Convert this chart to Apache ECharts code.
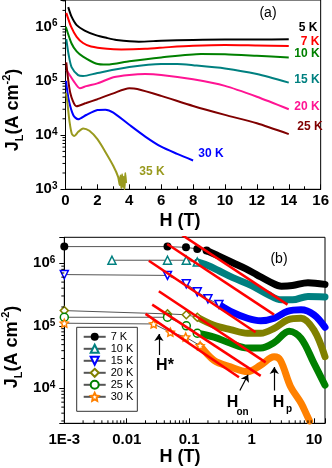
<!DOCTYPE html>
<html><head><meta charset="utf-8">
<script src="https://cdn.jsdelivr.net/npm/echarts@6/dist/echarts.min.js"></script>
<style>html,body{margin:0;padding:0;background:#fff}#c{width:332px;height:468px}</style>
</head><body><div id="c"></div>
<script>
// ---------- Panel (a): J_L vs H, linear H ----------
const aTemps = ['5 K','7 K','10 K','15 K','20 K','25 K','30 K','35 K'];
const aJ5K  = [[0.17,2.3e6],[0.38,1.53e6],[0.7,1.07e6],[1.2,8.5e5],[1.9,7.0e5],[2.6,6.2e5],[3.2,5.7e5],[4.6,5.3e5],[6,5.5e5],[8,5.7e5],[10,5.8e5],[12,5.8e5],[14,5.9e5]];
const aJ7K  = [[0.05,1.8e6],[0.35,1.0e6],[0.7,6.5e5],[1.1,5.0e5],[1.6,4.3e5],[2.6,3.9e5],[3.5,3.8e5],[5,3.9e5],[6.5,4.2e5],[8,4.45e5],[10,4.6e5],[12,4.5e5],[14,4.4e5]];
const aJ10K = [[0.02,1.0e6],[0.38,4.9e5],[0.7,3.5e5],[1.1,2.8e5],[1.9,2.1e5],[2.6,2.0e5],[4,2.3e5],[6,2.7e5],[8.5,3.15e5],[10,3.1e5],[12,2.9e5],[14,2.7e5]];
const aJ15K = [[0.05,5.9e5],[0.2,3.0e5],[0.38,1.8e5],[0.79,1.28e5],[1.1,1.23e5],[2,1.4e5],[4,1.8e5],[6,2.05e5],[7,2.05e5],[8,1.95e5],[10,1.7e5],[12,1.34e5],[14,9.3e4]];
const aJ20K = [[0.05,1.6e5],[0.25,1.3e5],[0.5,1.0e5],[0.9,7.3e4],[1.3,8.0e4],[2,9.0e4],[3,1.17e5],[4,1.29e5],[5,1.34e5],[6,1.29e5],[8,1.07e5],[10,8.1e4],[12,5.1e4],[14,3.0e4]];
const aJ25K = [[0.05,2.2e5],[0.3,6.0e4],[0.69,3.4e4],[1.3,3.9e4],[2,4.6e4],[3,5.9e4],[4,7.3e4],[4.5,7.1e4],[6,5.3e4],[8,3.45e4],[10,2.36e4],[12,1.65e4],[14,1.04e4]];
const aJ30K = [[0.03,1.0e5],[0.2,4.5e4],[0.5,2.3e4],[0.79,1.96e4],[1.3,2.35e4],[2,2.9e4],[2.5,2.95e4],[3,2.6e4],[4,1.55e4],[5,9.4e3],[6,6.1e3],[7,4.5e3],[8,3.4e3]];
const aJ35K = [[0.03,6e4],[0.1,4.4e4],[0.25,1.8e4],[0.4,1.05e4],[0.55,9.6e3],[0.8,1.15e4],[1.1,1.33e4],[1.5,1.2e4],[2,8.4e3],[2.5,4.9e3],[3,2.7e3],[3.3,1.7e3],[3.4,1.2e3],[3.45,1.8e3],[3.5,1.05e3],[3.55,1.9e3],[3.6,1.1e3],[3.65,1.7e3],[3.7,1.0e3],[3.75,2.0e3],[3.8,1.3e3]];

// ---------- Panel (b): J_L vs H, log H ----------
const bTemps = ['7 K','10 K','15 K','20 K','25 K','30 K'];
const b7KPts   = [[0.001,1.85e6],[0.045,1.85e6],[0.089,1.8e6],[0.135,1.7e6],[0.19,1.6e6]];
const b7KBand  = [[0.19,1.6e6],[0.3,1.3e6],[0.5,1.02e6],[0.8,8.2e5],[1.2,6.6e5],[2,5.0e5],[3,4.3e5],[4.5,4.4e5],[8,4.9e5],[15,4.6e5]];
const b10KPts  = [[0.0058,1.12e6],[0.045,1.12e6],[0.09,1.12e6],[0.135,1.05e6]];
const b10KBand = [[0.135,1.05e6],[0.2,9.2e5],[0.3,7.6e5],[0.5,5.9e5],[1,4.4e5],[1.8,3.2e5],[3,2.6e5],[4.5,2.6e5],[8,2.95e5],[15,2.9e5]];
const b15KPts  = [[0.001,6.6e5],[0.045,6.4e5],[0.09,4.7e5],[0.135,3.5e5],[0.2,2.7e5],[0.3,2.2e5]];
const b15KBand = [[0.3,2.2e5],[0.46,1.7e5],[0.86,1.32e5],[1.4,1.2e5],[2.3,1.32e5],[3.75,1.7e5],[6.2,1.8e5],[10,1.5e5],[15,9.5e4]];
const b20KPts  = [[0.001,1.75e5],[0.045,1.55e5],[0.09,1.5e5],[0.135,1.37e5]];
const b20KBand = [[0.135,1.37e5],[0.25,1.02e5],[0.46,8.7e4],[0.86,7.6e4],[1.4,7.6e4],[2.3,9.1e4],[3.75,1.24e5],[6.2,1.32e5],[10,8.5e4],[15,3.2e4]];
const b25KPts  = [[0.001,1.37e5],[0.045,1.37e5],[0.09,1.0e5],[0.135,7.6e4]];
const b25KBand = [[0.135,7.6e4],[0.25,6.6e4],[0.46,5.25e4],[0.86,4.4e4],[1.4,4.4e4],[2.3,5.4e4],[4,8.2e4],[6.2,6.3e4],[10,2.5e4],[15,1.12e4]];
const b30KPts  = [[0.001,1.1e5],[0.027,1.07e5],[0.05,7.9e4],[0.088,6.6e4],[0.15,4.8e4]];
const b30KBand = [[0.15,4.8e4],[0.25,2.8e4],[0.46,2.2e4],[0.86,1.85e4],[1.4,2.35e4],[2.3,3.2e4],[2.9,2.8e4],[4.2,1.07e4],[6.2,5.8e3],[7.9,3.5e3],[8.5,3.0e3]];
// red power-law guide lines (end points)
const fitLines = [
  [[0.0728,2.94e6],[3.76,2.18e5]],
  [[0.0445,2.04e6],[2.29,1.51e5]],
  [[0.0226,1.1e6],[1.16,7.9e4]],
  [[0.0327,3.57e5],[1.68,2.6e4]],
  [[0.0256,2.18e5],[1.4,1.58e4]],
  [[0.02,1.55e5],[0.628,1.5e4]]
];
// annotation arrows (H*, H_on, H_p)
const arrowH  = [[0.0328,3.4e4],[0.0328,7.4e4]];
const arrowHon= [[0.648,9.2e3],[0.879,1.65e4]];
const arrowHp = [[2.31,9.2e3],[2.31,2.2e4]];
// tick labels
const aXTickStep = 2;
const bXTickLabels = {'-3':'1E-3','-2':'0.01','-1':'0.1','0':'1','1':'10'};

// ---------- styles ----------
const FONT = 'Liberation Sans';
const aColors = ['#000000','#ff0000','#008000','#008080','#ff1493','#800000','#0000ff','#999a1f'];
const aSeriesData = [aJ5K,aJ7K,aJ10K,aJ15K,aJ20K,aJ25K,aJ30K,aJ35K];
const bColors = ['#000000','#008080','#0000ff','#808000','#008000','#ff8000'];
const bPts = [b7KPts,b10KPts,b15KPts,b20KPts,b25KPts,b30KPts];
const bBand = [b7KBand,b10KBand,b15KBand,b20KBand,b25KBand,b30KBand];
const STAR = 'path://M0,-10L2.9,-4L9.5,-3.1L4.7,1.5L5.9,8.1L0,5L-5.9,8.1L-4.7,1.5L-9.5,-3.1L-2.9,-4Z';
const bSymbols = ['circle','triangle','triangle','diamond','circle',STAR];
const bRotate = [0,0,180,0,0,0];
const bFilled = [true,false,false,false,false,false];

const A_YMIN = 1000, A_YMAX = 3.11e6;
const B_YMIN = 2754, B_YMAX = 2.606e6, B_XMIN = 0.001, B_XMAX = 15;

function isPow(v){ const e = Math.log10(v); return Math.abs(e - Math.round(e)) < 1e-6; }
function powLabel(v){ return isPow(v) ? '{b|10}{s|' + Math.round(Math.log10(v)) + '}' : ''; }
const powRich = {
  b:{fontSize:15,fontWeight:'bold',fontFamily:FONT,color:'#000',lineHeight:16,verticalAlign:'middle'},
  s:{fontSize:10,fontWeight:'bold',fontFamily:FONT,color:'#000',lineHeight:10,verticalAlign:'top'}
};
function minorVals(lo, hi){
  const out = [];
  for (let k = Math.floor(Math.log10(lo)); k <= Math.ceil(Math.log10(hi)); k++)
    for (let d = 2; d <= 9; d++){ const v = d * Math.pow(10,k); if (v > lo && v < hi) out.push(v); }
  return out;
}
function tickSeries(xi, yi, data, dir){
  return {type:'custom', xAxisIndex:xi, yAxisIndex:yi, silent:true, clip:false, z:6, animation:false,
    renderItem(params, api){
      const p = api.coord([api.value(0), api.value(1)]);
      const sh = dir === 'left' ? {x1:p[0]-3,y1:p[1],x2:p[0],y2:p[1]} : {x1:p[0],y1:p[1],x2:p[0],y2:p[1]-3};
      return {type:'line', shape:sh, style:{stroke:'#000', lineWidth:1}};
    }, data};
}

const series = [];
aSeriesData.forEach((d,i)=>{
  series.push({type:'line', name:'a'+aTemps[i], xAxisIndex:0, yAxisIndex:0, data:d, smooth:0.25,
    showSymbol:false, lineStyle:{color:aColors[i], width:2}, itemStyle:{color:aColors[i]}, z:3});
});
bBand.forEach((d,i)=>{
  series.push({type:'line', name:'band'+bTemps[i], xAxisIndex:1, yAxisIndex:1, data:d, smooth:0.35,
    showSymbol:false, lineStyle:{color:bColors[i], width:7, join:'round', cap:'round'}, itemStyle:{color:bColors[i]}, z:2});
});
bPts.forEach((d,i)=>{
  series.push({type:'line', name:bTemps[i], xAxisIndex:1, yAxisIndex:1, data:d, clip:false,
    symbol:bSymbols[i], symbolRotate:bRotate[i], symbolSize:8, showAllSymbol:true,
    lineStyle:{color:'#555', width:1},
    itemStyle: bFilled[i] ? {color:bColors[i]} : {color:'#fff', borderColor:bColors[i], borderWidth:1.5},
    z:3});
});
fitLines.forEach((d,i)=>{
  series.push({type:'line', name:'fit'+i, xAxisIndex:1, yAxisIndex:1, data:d, showSymbol:false,
    lineStyle:{color:'#ff0000', width:2.5}, z:5, silent:true});
});
series.push({type:'lines', coordinateSystem:'cartesian2d', xAxisIndex:1, yAxisIndex:1, z:6,
  symbol:['none','arrow'], symbolSize:7, silent:true,
  lineStyle:{color:'#000', width:1.2, opacity:1},
  data:[{coords:arrowH},{coords:arrowHon},{coords:arrowHp}]});
series.push(tickSeries(0,0, minorVals(A_YMIN, A_YMAX).map(v=>[0,v]), 'left'));
series.push(tickSeries(1,1, minorVals(B_YMIN, B_YMAX).map(v=>[B_XMIN,v]), 'left'));
series.push(tickSeries(1,1, minorVals(B_XMIN, B_XMAX).map(v=>[v,B_YMIN]), 'up'));

const axisCommon = {axisLine:{show:true,lineStyle:{color:'#000',width:1}}, splitLine:{show:false}};
const tickLbl = {color:'#000', fontSize:15, fontWeight:'bold', fontFamily:FONT};

function txt(x,y,text,size,color,weight,extra){
  return Object.assign({type:'text', x, y, z:100, style:{text, fontSize:size, fontWeight:weight||'bold', fontFamily:FONT, fill:color||'#000', align:'center', verticalAlign:'middle'}}, extra||{});
}
const titleRich = {
  m:{fontSize:18,fontWeight:'bold',fontFamily:FONT,color:'#000',lineHeight:24,verticalAlign:'middle'},
  d:{fontSize:11,fontWeight:'bold',fontFamily:FONT,color:'#000',lineHeight:11,verticalAlign:'bottom'},
  u:{fontSize:11,fontWeight:'bold',fontFamily:FONT,color:'#000',lineHeight:11,verticalAlign:'top'}
};
function yTitle(x,y){
  return {type:'text', x, y, rotation:Math.PI/2, z:100,
    style:{text:'{m|J}{d|L}{m|(A cm}{u|-2}{m|)}', rich:titleRich, align:'center', verticalAlign:'middle'}};
}
const aLabelPos = [[308,28],[310,42],[307,54],[307,80],[307,107],[310,127],[211,154],[152,172]];
const graphics = [];
aLabelPos.forEach((p,i)=>graphics.push(txt(p[0],p[1],aTemps[i],12,aColors[i])));
graphics.push(txt(268,13,'(a)',14,'#000','normal'));
graphics.push(txt(279,259,'(b)',14,'#000','normal'));
graphics.push(txt(180,221,'H (T)',18));
graphics.push(txt(180,457,'H (T)',18));
graphics.push(yTitle(13,110));
graphics.push(yTitle(12,347));
graphics.push(txt(165,366,'H*',16));
graphics.push(txt(232.5,402.5,'H',16));
graphics.push(txt(242.5,412,'on',10));
graphics.push(txt(278.5,402.5,'H',16));
graphics.push(txt(289,409,'p',10));

const option = {
  animation:false,
  backgroundColor:'#fff',
  grid:[
    {left:65.5, top:0, width:258.5, height:189.3, show:true, borderColor:'#000', borderWidth:1, backgroundColor:'transparent'},
    {left:64.3, top:237.3, width:260.7, height:186, show:true, borderColor:'#000', borderWidth:1, backgroundColor:'transparent'}
  ],
  xAxis:[
    Object.assign({gridIndex:0, type:'value', min:0, max:16, interval:aXTickStep,
      axisTick:{show:true, inside:true, length:5, lineStyle:{color:'#000'}},
      minorTick:{show:true, splitNumber:2, length:3, lineStyle:{color:'#000'}},
      axisLabel:Object.assign({margin:4}, tickLbl)}, axisCommon),
    Object.assign({gridIndex:1, type:'log', logBase:10, min:B_XMIN, max:B_XMAX,
      axisTick:{show:true, inside:true, length:5, lineStyle:{color:'#000'}},
      axisLabel:Object.assign({margin:9, showMinLabel:true, showMaxLabel:true,
        formatter:v=> isPow(v) ? bXTickLabels[String(Math.round(Math.log10(v)))] : ''}, tickLbl)}, axisCommon)
  ],
  yAxis:[
    Object.assign({gridIndex:0, type:'log', logBase:10, min:A_YMIN, max:A_YMAX,
      axisTick:{show:true, inside:false, length:5, lineStyle:{color:'#000'}},
      axisLabel:{margin:8, formatter:powLabel, rich:powRich}}, axisCommon),
    Object.assign({gridIndex:1, type:'log', logBase:10, min:B_YMIN, max:B_YMAX,
      axisTick:{show:true, inside:false, length:5, lineStyle:{color:'#000'}},
      axisLabel:{margin:9, formatter:powLabel, rich:powRich}}, axisCommon)
  ],
  legend:{
    data:bTemps, orient:'vertical', left:76.7, top:327.3, itemWidth:22, itemHeight:10, itemGap:1,
    padding:[4,4,9,6], borderColor:'#333', borderWidth:1, borderRadius:0, backgroundColor:'#fff',
    textStyle:{fontSize:11, color:'#000', fontFamily:FONT, lineHeight:11}
  },
  series,
  graphic:graphics
};
const chart = echarts.init(document.getElementById('c'), null, {renderer:'canvas'});
chart.setOption(option);
</script></body></html>
